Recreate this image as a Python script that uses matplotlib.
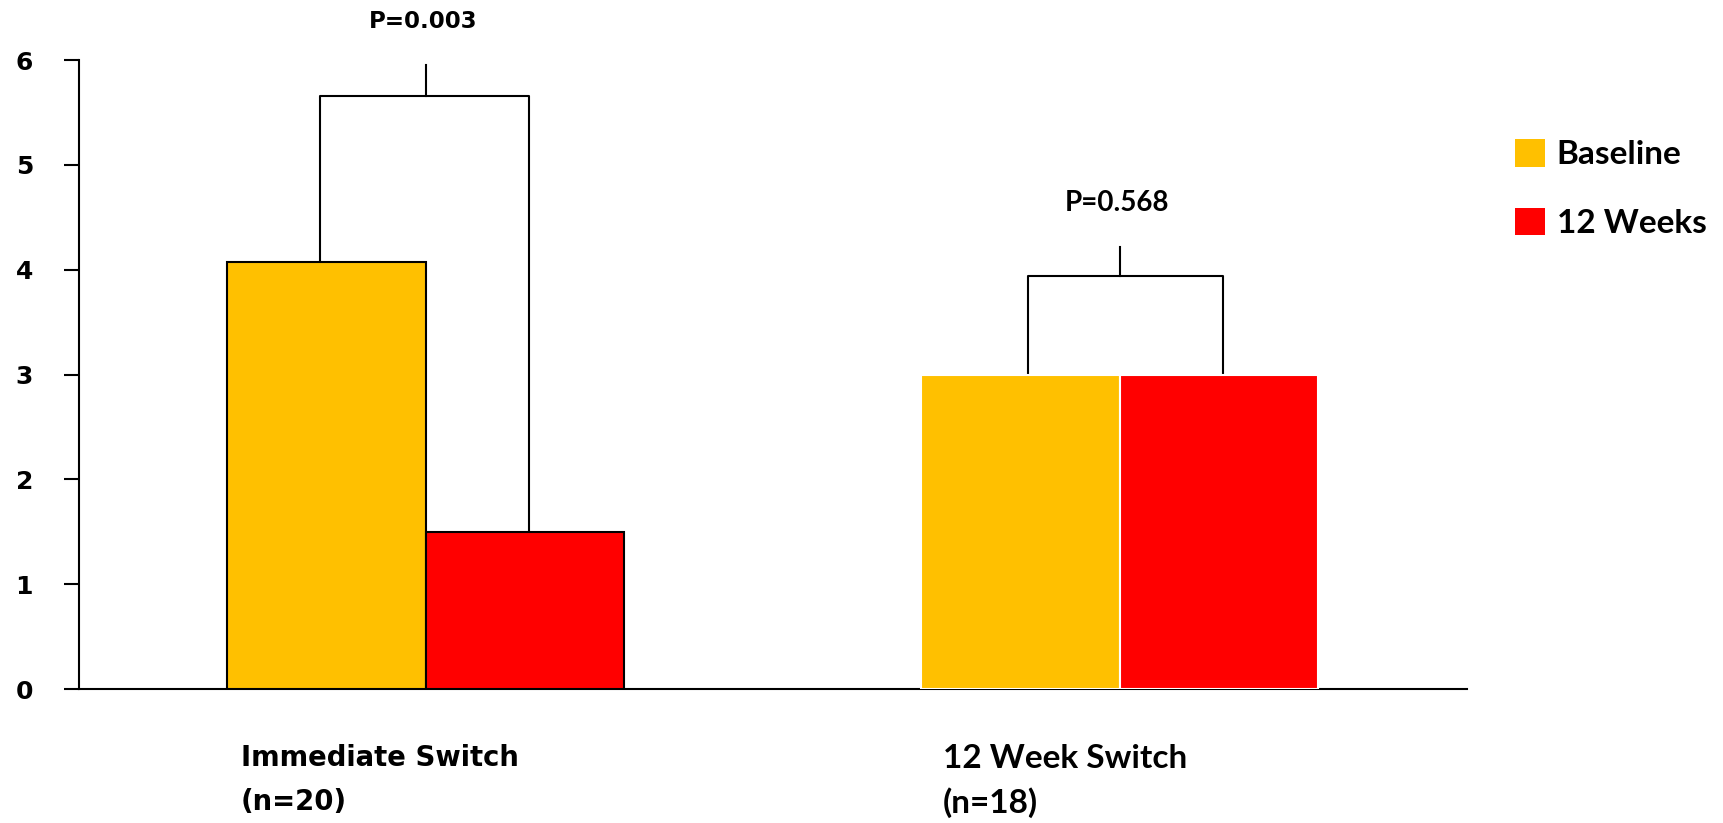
import matplotlib.pyplot as plt
from matplotlib.patches import Patch

# values
groups = ["Immediate Switch", "12 Week Switch"]
group_n = ["(n=20)", "(n=18)"]
baseline = [4.07, 3.0]
weeks12 = [1.50, 3.0]
p_labels = ["P=0.003", "P=0.568"]
series_names = ["Baseline", "12 Weeks"]
yticks = [0, 1, 2, 3, 4, 5, 6]

yellow = "#FFC000"
red = "#FF0000"

# the second group was typeset in a narrower font in the original slide
group_fonts = ["DejaVu Sans", "Lato"]
label_sizes = [19.8, 24]
label_x = [-0.267, -0.255]
p_sizes = [16.5, 20]
edge_cols = ["black", "white"]

# bracket layout (data units)
bracket_y = [5.66, 3.94]
bracket_tip = [5.95, 4.22]
bracket_shift = [-0.01, 0.01]
p_text_y = [6.37, 4.64]

fig = plt.figure(figsize=(17.23, 8.23), dpi=100)
ax = fig.add_axes([0.0458, 0.1628, 0.8056, 0.7642])

w = 0.286
xs = list(range(len(groups)))
for i, xc in enumerate(xs):
    ax.bar(xc - w / 2, baseline[i], w, color=yellow, edgecolor=edge_cols[i],
           linewidth=1.5, zorder=3)
    ax.bar(xc + w / 2, weeks12[i], w, color=red, edgecolor=edge_cols[i],
           linewidth=1.5, zorder=3)

    # significance bracket
    xl, xr = xc - w / 2 + bracket_shift[i], xc + w / 2 + 0.005
    ax.plot([xl, xl, xr, xr], [baseline[i], bracket_y[i], bracket_y[i], weeks12[i]],
            color="black", lw=1.5, zorder=2, clip_on=False)
    ax.plot([xc, xc], [bracket_y[i], bracket_tip[i]], color="black", lw=1.5,
            clip_on=False)
    ax.text(xc - 0.004, p_text_y[i], p_labels[i], ha="center", va="center",
            fontsize=p_sizes[i], fontweight="bold", family=group_fonts[i],
            clip_on=False)

    # category labels below the axis
    ax.text(xc + label_x[i], -0.66, groups[i], ha="left", va="center",
            fontsize=label_sizes[i], fontweight="bold", family=group_fonts[i])
    ax.text(xc + label_x[i], -1.08, group_n[i], ha="left", va="center",
            fontsize=label_sizes[i], fontweight="bold", family=group_fonts[i])

ax.set_xlim(-0.5, 1.5)
ax.set_ylim(0, 6)
ax.set_yticks(yticks)
ax.set_yticklabels([str(t) for t in yticks], fontsize=18, fontweight="bold")
ax.set_xticks([])
ax.tick_params(axis="y", length=11, width=1.5, pad=22)
for s in ["top", "right"]:
    ax.spines[s].set_visible(False)
for s in ["left", "bottom"]:
    ax.spines[s].set_linewidth(1.5)

handles = [Patch(facecolor=yellow, edgecolor="none"),
           Patch(facecolor=red, edgecolor="none")]
fig.legend(handles, series_names, loc="upper left",
           bbox_to_anchor=(1515 / 1723, 1 - 139 / 823), frameon=False,
           prop={"family": "Lato", "weight": "bold", "size": 24},
           handlelength=0.9, handleheight=0.9, handletextpad=0.35,
           labelspacing=1.15, borderpad=0, borderaxespad=0)

fig.savefig("out.png", dpi=100)
